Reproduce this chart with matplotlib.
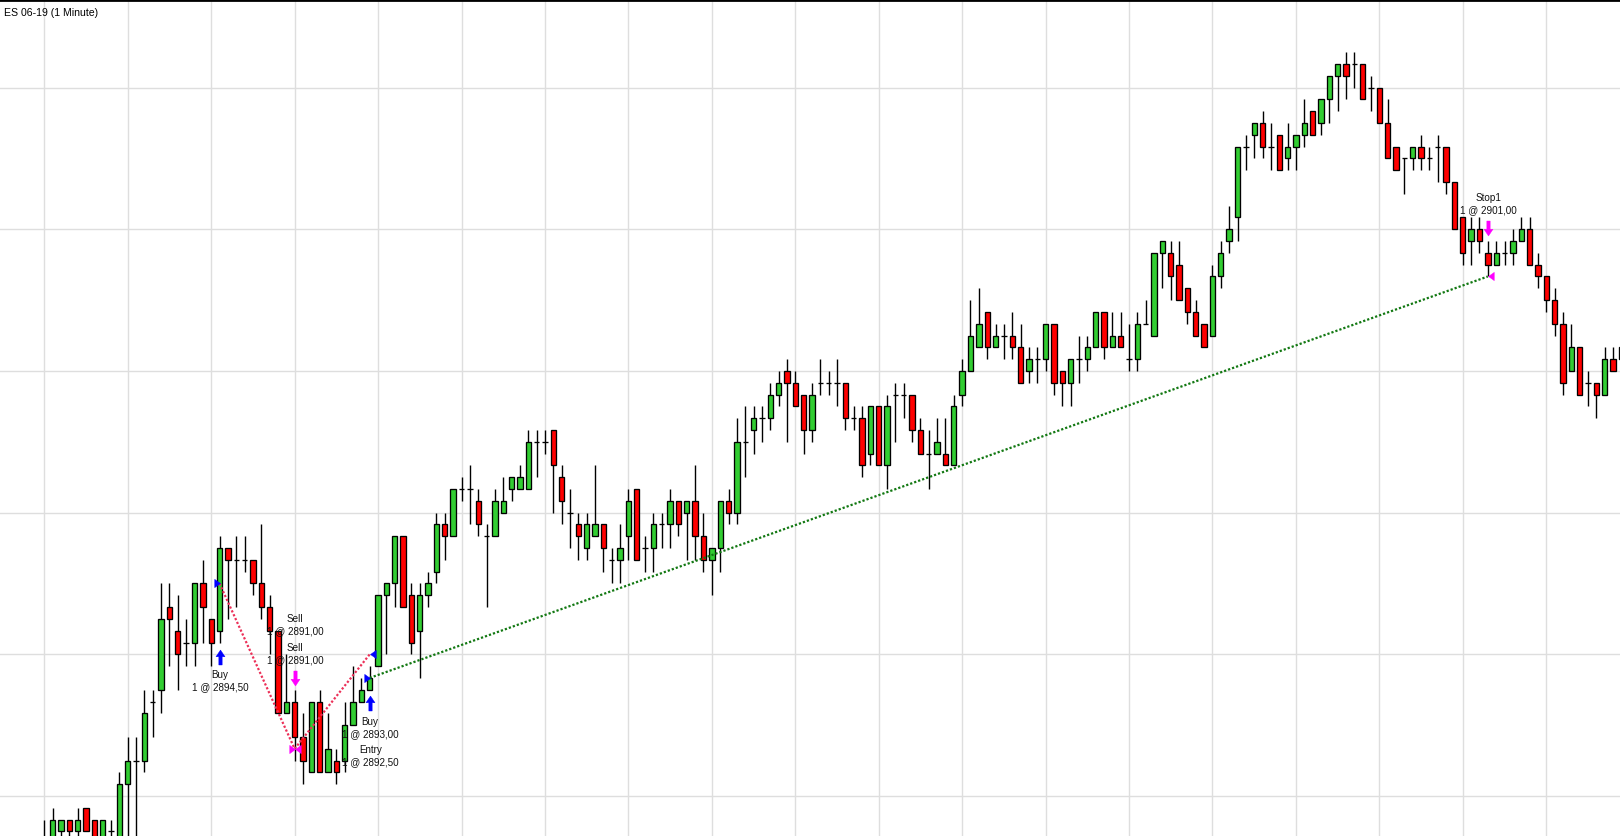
import matplotlib
matplotlib.use("Agg")
import matplotlib.pyplot as plt
from matplotlib.transforms import offset_copy
import numpy as np

plt.rcParams['font.family'] = ['Liberation Sans', 'DejaVu Sans']

TITLE = "ES 06-19 (1 Minute)"

opens = [
    2888.75, 2889.0, 2889.25, 2889.5, 2889.25, 2889.75, 2889.5, 2889.0, 2889.25, 2889.0,
    2890.25, 2890.75, 2890.75, 2892.0, 2892.25, 2894.0, 2893.5, 2893.25, 2893.25, 2894.5,
    2893.75, 2893.5, 2895.25, 2895.0, 2895.0, 2895.0, 2894.5, 2894.0, 2893.5, 2891.75,
    2892.0, 2891.25, 2890.5, 2892.0, 2890.5, 2890.75, 2890.75, 2891.5, 2892.0, 2892.25,
    2892.75, 2894.25, 2894.5, 2895.5, 2894.25, 2893.5, 2894.25, 2894.75, 2895.75, 2895.5,
    2896.5, 2896.5, 2896.25, 2895.5, 2895.5, 2896.0, 2896.5, 2896.5, 2896.5, 2897.5,
    2897.5, 2897.75, 2896.75, 2896.0, 2895.75, 2895.25, 2895.5, 2895.75, 2895.0, 2895.0,
    2895.5, 2896.5, 2895.25, 2895.25, 2895.75, 2895.75, 2896.25, 2896.0, 2896.25, 2895.5,
    2895.0, 2895.25, 2896.25, 2896.0, 2897.5, 2897.75, 2898.0, 2898.0, 2898.5, 2899.0,
    2898.75, 2898.5, 2897.75, 2898.75, 2898.75, 2898.75, 2898.75, 2898.0, 2898.0, 2897.25,
    2898.25, 2897.0, 2898.5, 2898.5, 2898.5, 2897.75, 2897.25, 2897.25, 2897.25, 2897.0,
    2898.5, 2899.0, 2899.5, 2900.25, 2899.5, 2899.75, 2899.75, 2899.5, 2899.0, 2899.25,
    2899.25, 2900.0, 2899.0, 2898.75, 2899.25, 2899.25, 2899.5, 2900.25, 2899.5, 2899.75,
    2899.25, 2899.25, 2900.0, 2899.75, 2901.5, 2901.5, 2901.25, 2900.75, 2900.25, 2900.0,
    2899.75, 2901.0, 2901.75, 2902.25, 2903.75, 2904.0, 2904.25, 2903.75, 2904.0, 2903.5,
    2903.75, 2904.0, 2904.5, 2904.25, 2904.75, 2905.25, 2905.5, 2905.5, 2905.5, 2905.0,
    2905.0, 2904.25, 2903.75, 2903.5, 2903.5, 2903.75, 2903.5, 2903.75, 2903.75, 2903.0,
    2902.25, 2901.75, 2902.0, 2901.5, 2901.25, 2901.5, 2901.5, 2901.75, 2902.0, 2901.25,
    2901.0, 2900.5, 2900.0, 2899.0, 2899.5, 2898.75, 2898.75, 2898.5, 2899.25, 2899.25,
]
highs = [
    2889.5, 2889.75, 2889.5, 2889.5, 2889.75, 2889.75, 2889.5, 2889.5, 2889.5, 2890.5,
    2891.25, 2891.25, 2892.25, 2892.25, 2894.5, 2894.5, 2894.25, 2893.75, 2894.5, 2895.0,
    2893.75, 2895.5, 2895.25, 2895.5, 2895.5, 2895.0, 2895.75, 2894.25, 2893.5, 2893.0,
    2892.25, 2891.75, 2892.0, 2892.25, 2891.75, 2891.0, 2892.0, 2892.75, 2892.5, 2892.75,
    2894.25, 2894.5, 2895.5, 2895.5, 2894.5, 2894.5, 2894.75, 2896.0, 2896.0, 2896.5,
    2896.75, 2897.0, 2896.5, 2895.75, 2896.5, 2896.75, 2896.75, 2897.0, 2897.75, 2897.75,
    2897.75, 2897.75, 2897.0, 2896.5, 2896.0, 2896.0, 2897.0, 2895.75, 2895.25, 2895.75,
    2896.5, 2896.5, 2895.5, 2896.0, 2896.0, 2896.5, 2896.25, 2896.25, 2897.0, 2896.0,
    2895.25, 2896.25, 2896.5, 2898.0, 2898.25, 2898.25, 2898.25, 2898.75, 2899.0, 2899.25,
    2899.0, 2898.5, 2898.75, 2899.25, 2899.0, 2899.25, 2898.75, 2898.25, 2898.25, 2898.25,
    2898.25, 2898.5, 2898.75, 2898.75, 2898.5, 2898.0, 2897.75, 2898.0, 2898.0, 2898.5,
    2899.25, 2900.5, 2900.75, 2900.25, 2900.0, 2900.0, 2900.25, 2900.0, 2899.5, 2899.5,
    2900.0, 2900.0, 2899.0, 2899.25, 2899.75, 2899.75, 2900.25, 2900.25, 2900.25, 2900.25,
    2900.0, 2900.25, 2900.5, 2901.5, 2901.75, 2901.75, 2901.75, 2900.75, 2900.5, 2900.0,
    2901.25, 2901.75, 2902.5, 2903.75, 2904.0, 2904.25, 2904.5, 2904.25, 2904.0, 2904.25,
    2904.0, 2904.75, 2904.5, 2904.75, 2905.25, 2905.5, 2905.75, 2905.75, 2905.5, 2905.25,
    2905.0, 2904.75, 2903.75, 2903.5, 2903.75, 2904.0, 2903.75, 2904.0, 2903.75, 2903.0,
    2902.25, 2902.25, 2902.25, 2901.75, 2901.75, 2901.75, 2902.0, 2902.25, 2902.25, 2901.5,
    2901.0, 2900.75, 2900.25, 2900.0, 2899.5, 2899.0, 2898.75, 2899.5, 2899.5, 2899.5,
]
lows = [
    2888.5, 2888.75, 2889.0, 2889.0, 2889.0, 2889.25, 2888.75, 2888.75, 2889.0, 2888.75,
    2889.0, 2889.0, 2890.5, 2891.25, 2891.75, 2892.75, 2892.25, 2892.75, 2892.75, 2893.25,
    2892.75, 2893.25, 2893.75, 2894.0, 2894.75, 2894.25, 2893.75, 2893.0, 2891.75, 2891.75,
    2890.75, 2890.25, 2890.5, 2890.5, 2890.5, 2890.25, 2890.5, 2891.5, 2892.0, 2892.25,
    2892.75, 2893.0, 2894.0, 2894.0, 2893.0, 2892.5, 2894.0, 2894.5, 2895.0, 2895.5,
    2896.25, 2895.75, 2895.5, 2894.0, 2895.5, 2896.0, 2896.25, 2896.5, 2896.5, 2896.75,
    2897.25, 2896.0, 2895.75, 2895.25, 2895.0, 2895.0, 2895.5, 2894.75, 2894.5, 2894.5,
    2895.0, 2895.0, 2894.75, 2894.75, 2895.25, 2895.25, 2895.5, 2895.0, 2895.0, 2894.75,
    2894.25, 2894.75, 2895.75, 2895.75, 2896.75, 2897.25, 2897.5, 2897.75, 2898.25, 2897.5,
    2898.25, 2897.25, 2897.5, 2898.5, 2898.5, 2898.25, 2897.75, 2897.75, 2896.75, 2897.0,
    2897.0, 2896.5, 2897.5, 2898.0, 2897.5, 2897.25, 2896.5, 2897.25, 2897.0, 2897.0,
    2898.25, 2899.0, 2899.5, 2899.25, 2899.5, 2899.25, 2899.25, 2898.75, 2898.75, 2898.75,
    2899.0, 2898.5, 2898.25, 2898.25, 2898.75, 2899.0, 2899.5, 2899.25, 2899.5, 2899.5,
    2899.0, 2899.0, 2900.0, 2899.75, 2900.75, 2900.5, 2900.5, 2900.0, 2899.75, 2899.5,
    2899.75, 2900.75, 2901.5, 2901.75, 2903.25, 2903.5, 2903.5, 2903.25, 2903.25, 2903.25,
    2903.25, 2903.75, 2904.0, 2904.0, 2904.25, 2904.5, 2904.75, 2905.0, 2904.75, 2904.5,
    2904.25, 2903.5, 2903.25, 2902.75, 2903.25, 2903.25, 2903.25, 2903.0, 2902.75, 2902.0,
    2901.25, 2901.25, 2901.5, 2901.0, 2901.25, 2901.25, 2901.25, 2901.75, 2901.25, 2900.75,
    2900.25, 2899.75, 2898.5, 2899.0, 2898.5, 2898.25, 2898.0, 2898.5, 2899.0, 2899.25,
]
closes = [
    2889.0, 2889.5, 2889.5, 2889.25, 2889.5, 2889.25, 2889.0, 2889.5, 2889.25, 2890.25,
    2890.75, 2890.75, 2891.75, 2892.0, 2893.75, 2893.75, 2893.0, 2893.25, 2894.5, 2894.0,
    2893.25, 2895.25, 2895.0, 2895.0, 2895.0, 2894.5, 2894.0, 2893.5, 2891.75, 2892.0,
    2891.25, 2890.75, 2892.0, 2890.5, 2891.0, 2890.5, 2891.5, 2892.0, 2892.25, 2892.5,
    2894.25, 2894.5, 2895.5, 2894.0, 2893.25, 2894.25, 2894.5, 2895.75, 2895.5, 2896.5,
    2896.5, 2896.5, 2895.75, 2895.5, 2896.25, 2896.25, 2896.75, 2896.75, 2897.5, 2897.5,
    2897.5, 2897.0, 2896.25, 2896.0, 2895.5, 2895.75, 2895.75, 2895.25, 2895.0, 2895.25,
    2896.25, 2895.0, 2895.25, 2895.75, 2895.75, 2896.25, 2895.75, 2896.25, 2895.5, 2895.0,
    2895.25, 2896.25, 2896.0, 2897.5, 2897.5, 2898.0, 2898.0, 2898.5, 2898.75, 2898.75,
    2898.25, 2897.75, 2898.5, 2898.75, 2898.75, 2898.75, 2898.0, 2898.0, 2897.0, 2898.25,
    2897.0, 2898.25, 2898.5, 2898.5, 2897.75, 2897.25, 2897.25, 2897.5, 2897.0, 2898.25,
    2899.0, 2899.75, 2900.0, 2899.5, 2899.75, 2899.75, 2899.5, 2898.75, 2899.25, 2899.25,
    2900.0, 2898.75, 2898.75, 2899.25, 2899.25, 2899.5, 2900.25, 2899.5, 2899.75, 2899.5,
    2899.25, 2900.0, 2900.0, 2901.5, 2901.75, 2901.0, 2900.5, 2900.25, 2899.75, 2899.5,
    2901.0, 2901.5, 2902.0, 2903.75, 2903.75, 2904.25, 2903.75, 2903.75, 2903.25, 2903.75,
    2904.0, 2904.25, 2904.0, 2904.75, 2905.25, 2905.5, 2905.25, 2905.5, 2904.75, 2905.0,
    2904.25, 2903.5, 2903.25, 2903.5, 2903.75, 2903.5, 2903.5, 2903.75, 2903.0, 2902.0,
    2901.5, 2902.0, 2901.75, 2901.25, 2901.5, 2901.5, 2901.75, 2902.0, 2901.25, 2901.0,
    2900.5, 2900.0, 2898.75, 2899.5, 2898.5, 2898.75, 2898.5, 2899.25, 2899.0, 2899.5,
]

# trades: bar index and price
buy1_bar, buy1_price = 21, 2894.50
sell_bar, sell_price = 30, 2891.00
cover_bar, cover_price = 39, 2893.00
entry_bar, entry_price = 39, 2892.50
stop_bar, stop_price = 173, 2901.00

GREEN = '#32CD32'
RED = '#FF0000'
BLUE = '#0000FF'
MAGENTA = '#FF00FF'

fig = plt.figure(figsize=(16.2, 8.36), dpi=100)
ax = fig.add_axes([0, 0, 1, 1])

n = len(opens)
x = np.arange(n)
o = np.array(opens)
c = np.array(closes)
h = np.array(highs)
l = np.array(lows)

ax.set_xlim(-5.31, 188.84)
ax.set_ylim(2889.153, 2906.854)

ax.set_xticks(np.arange(0, 190, 10))
ax.set_yticks(np.arange(2890, 2906, 3))
ax.grid(True, color='#DEDEDE', linewidth=1.0)
ax.set_axisbelow(True)
ax.tick_params(length=0, labelleft=False, labelbottom=False)
for s in ['left', 'right', 'bottom']:
    ax.spines[s].set_visible(False)
ax.spines['top'].set_color('black')
ax.spines['top'].set_linewidth(2.0)

ax.vlines(x, l, h, colors='black', linewidth=1.0, zorder=2)
colors = [GREEN if cc > oo else (RED if cc < oo else 'black') for oo, cc in zip(o, c)]
ax.bar(x, np.abs(c - o), bottom=np.minimum(o, c), width=0.64, color=colors,
       edgecolor='black', linewidth=0.95, zorder=3)

# dotted trade lines
ax.plot([buy1_bar, sell_bar, cover_bar], [buy1_price, sell_price, cover_price],
        color='#EC3058', linewidth=1.6, linestyle=(0, (1, 0.9)), zorder=4)
ax.plot([entry_bar, stop_bar], [entry_price, stop_price],
        color='#127812', linewidth=1.6, linestyle=(0, (1, 0.9)), zorder=4)

tri_right = [(0, 0), (-1, 0.72), (-1, -0.72), (0, 0)]
tri_left = [(0, 0), (1, 0.72), (1, -0.72), (0, 0)]
arrow_up = [(0, 1), (-0.6, 0.1), (-0.22, 0.1), (-0.22, -1), (0.22, -1), (0.22, 0.1), (0.6, 0.1), (0, 1)]
arrow_down = [(px, -py) for px, py in arrow_up]

def tri(bar, price, verts, col):
    ax.plot([bar], [price], marker=verts, markersize=8.3, color=col,
            markeredgecolor=col, markeredgewidth=0.3, linestyle='none', zorder=6)

tri(buy1_bar, buy1_price, tri_right, BLUE)
tri(sell_bar, sell_price, tri_right, MAGENTA)
tri(sell_bar, sell_price, tri_left, MAGENTA)
tri(cover_bar, cover_price, tri_left, BLUE)
tri(entry_bar, entry_price, tri_right, BLUE)
tri(stop_bar, stop_price, tri_left, MAGENTA)

def arrow(bar, price, dy, verts, col):
    tr = offset_copy(ax.transData, fig=fig, x=0, y=dy, units='dots')
    ax.plot([bar], [price], marker=verts, markersize=10.8, color=col,
            markeredgecolor=col, markeredgewidth=0.3, linestyle='none',
            transform=tr, zorder=6)

arrow(buy1_bar, lows[buy1_bar], -14, arrow_up, BLUE)
arrow(entry_bar, lows[entry_bar], -13.7, arrow_up, BLUE)
arrow(sell_bar, highs[sell_bar], 11.7, arrow_down, MAGENTA)
arrow(stop_bar, highs[stop_bar], 12.7, arrow_down, MAGENTA)

def label(bar, price, dy, s):
    ax.annotate(s, xy=(bar, price), xytext=(0.5, dy), textcoords='offset pixels',
                ha='center', va='center', fontsize=7.1, color='#111111', zorder=7)

label(buy1_bar, lows[buy1_bar], -32.5, "Buy")
label(buy1_bar, lows[buy1_bar], -44.8, "1 @ 2894,50")
label(sell_bar, highs[sell_bar], 70.4, "Sell")
label(sell_bar, highs[sell_bar], 58.7, "1 @ 2891,00")
label(sell_bar, highs[sell_bar], 42.0, "Sell")
label(sell_bar, highs[sell_bar], 29.7, "1 @ 2891,00")
label(entry_bar, lows[entry_bar], -32.0, "Buy")
label(entry_bar, lows[entry_bar], -44.3, "1 @ 2893,00")
label(entry_bar, lows[entry_bar], -60.3, "Entry")
label(entry_bar, lows[entry_bar], -72.0, "1 @ 2892,50")
label(stop_bar, highs[stop_bar], 42.7, "Stop1")
label(stop_bar, highs[stop_bar], 31.0, "1 @ 2901,00")

fig.text(4 / 1620, 1 - 13 / 836, TITLE, ha='left', va='center', fontsize=7.6, color='black')

fig.savefig('out.png', dpi=100)
